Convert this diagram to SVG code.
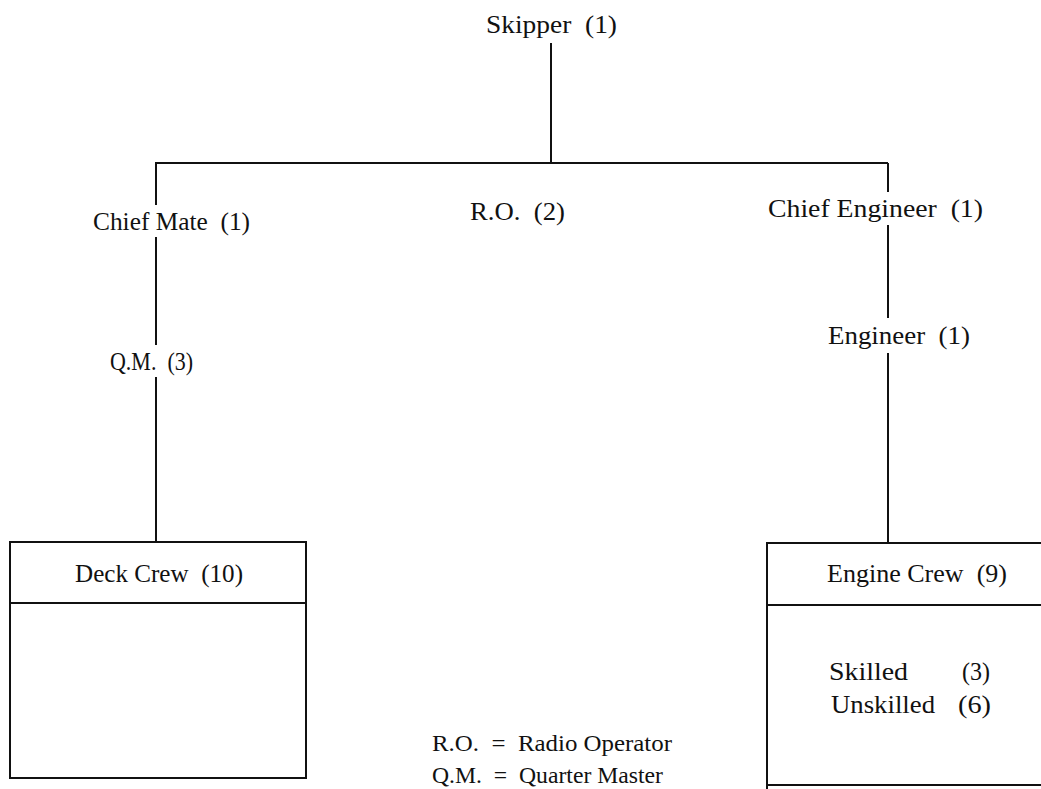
<svg xmlns="http://www.w3.org/2000/svg" width="1041" height="789" viewBox="0 0 1041 789">
<style>
text{font-family:"Liberation Serif","Times New Roman",serif;font-size:25px;fill:#111;white-space:pre}
.lg{font-size:24px}
.ln{stroke:#111;stroke-width:2;fill:none}
</style>
<rect width="1041" height="789" fill="#fff"/>
<g id="connectors">
<path class="ln" d="M551 43V163M155 163H888M156 163V205M156 237V345M156 377V542M888 163V192M888 225V318M888 353V543"/>
</g>
<g id="skipper"><text x="486" y="33" textLength="131" lengthAdjust="spacingAndGlyphs">Skipper  (1)</text></g>
<g id="chief-mate"><text x="93" y="230" textLength="157" lengthAdjust="spacingAndGlyphs">Chief Mate  (1)</text></g>
<g id="ro"><text x="470" y="220" textLength="95" lengthAdjust="spacingAndGlyphs">R.O.  (2)</text></g>
<g id="chief-engineer"><text x="768" y="217" textLength="215" lengthAdjust="spacingAndGlyphs">Chief Engineer  (1)</text></g>
<g id="qm"><text x="110" y="370" textLength="83" lengthAdjust="spacingAndGlyphs">Q.M.  (3)</text></g>
<g id="engineer"><text x="828" y="344" textLength="142" lengthAdjust="spacingAndGlyphs">Engineer  (1)</text></g>
<g id="deck-crew">
<rect class="ln" x="10" y="542" width="296" height="236"/>
<line class="ln" x1="10" y1="603" x2="306" y2="603"/>
<text x="75" y="582" textLength="168" lengthAdjust="spacingAndGlyphs">Deck Crew  (10)</text>
</g>
<g id="engine-crew">
<path class="ln" d="M1045 543H767V790"/>
<line class="ln" x1="767" y1="605" x2="1041" y2="605"/>
<line class="ln" x1="767" y1="785" x2="1041" y2="785"/>
<text x="827" y="582" textLength="180" lengthAdjust="spacingAndGlyphs">Engine Crew  (9)</text>
<text x="829" y="680" textLength="79" lengthAdjust="spacingAndGlyphs">Skilled</text>
<text x="962" y="680" textLength="28" lengthAdjust="spacingAndGlyphs">(3)</text>
<text x="831" y="713" textLength="104" lengthAdjust="spacingAndGlyphs">Unskilled</text>
<text x="958" y="713" textLength="33" lengthAdjust="spacingAndGlyphs">(6)</text>
</g>
<g id="legend">
<text class="lg" x="432" y="751" textLength="240" lengthAdjust="spacingAndGlyphs">R.O.  =  Radio Operator</text>
<text class="lg" x="432" y="783" textLength="231" lengthAdjust="spacingAndGlyphs">Q.M.  =  Quarter Master</text>
</g>
</svg>
